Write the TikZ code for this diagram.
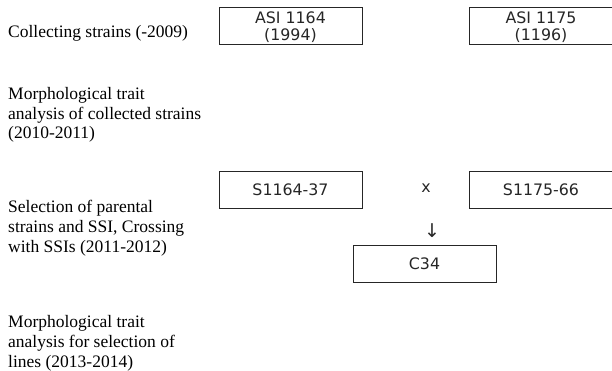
\documentclass[tikz,border=0pt]{standalone}
\usepackage{fontspec}
\setmainfont{Liberation Serif}
\newfontfamily\boxfont{DejaVu Sans}
\begin{document}
\begin{tikzpicture}[x=1pt,y=-1pt,
  lbl/.style={anchor=base west, align=left, inner sep=0pt, font=\fontsize{17.5}{19.8}\selectfont},
  strainbox/.style={draw=black!85, line width=0.9pt, minimum width=143pt, minimum height=37pt, inner sep=0pt},
  boxtext/.style={inner sep=0pt, align=center, font=\boxfont\fontsize{15.8}{17}\selectfont, text=black!85},
]
\useasboundingbox (0,0) rectangle (612,371);
% stage labels (base anchor = baseline of the last line)
\node[lbl] (t1) at (8,38) {Collecting strains (-2009)};
\node[lbl] (t2) at (8,139) {Morphological trait\\analysis of collected strains\\(2010-2011)};
\node[lbl] (t3) at (8,252.5) {Selection of parental\\strains and SSI, Crossing\\with SSIs (2011-2012)};
\node[lbl] (t4) at (8,367) {Morphological trait\\analysis for selection of\\lines (2013-2014)};
% boxes
\node[strainbox] (a1) at (290.5,26) {};
\node[boxtext, anchor=base] (a1t) at (290.5,41) {ASI 1164\\(1994)};
\node[strainbox] (a2) at (541,26) {};
\node[boxtext, anchor=base] (a2t) at (541,41) {ASI 1175\\(1196)};
\node[strainbox, boxtext, draw=black!85] (s1) at (290.5,190) {S1164-37};
\node[strainbox, boxtext, draw=black!85] (s2) at (541,190) {S1175-66};
\node[strainbox, boxtext, draw=black!85] (c) at (424.5,264) {C34};
\node[boxtext] (x) at (426,188) {x};
\node[boxtext, font=\boxfont\fontsize{19}{20}\selectfont] (arr) at (432,231) {↓};
\end{tikzpicture}
\end{document}
